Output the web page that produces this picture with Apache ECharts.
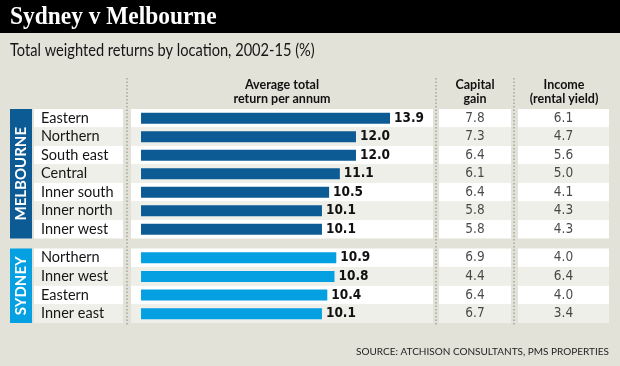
<!DOCTYPE html>
<html><head><meta charset="utf-8">
<script src="https://cdn.jsdelivr.net/npm/echarts@6/dist/echarts.min.js"></script>
<style>html,body{margin:0;padding:0;background:#e3e2d8}#c{width:620px;height:366px}</style>
</head><body><div id="c"></div>
<script>
const melCats = ['Eastern','Northern','South east','Central','Inner south','Inner north','Inner west'];
const melTotal = [13.9,12.0,12.0,11.1,10.5,10.1,10.1];
const melCapital = [7.8,7.3,6.4,6.1,6.4,5.8,5.8];
const melIncome = [6.1,4.7,5.6,5.0,4.1,4.3,4.3];
const sydCats = ['Northern','Inner west','Eastern','Inner east'];
const sydTotal = [10.9,10.8,10.4,10.1];
const sydCapital = [6.9,4.4,6.4,6.7];
const sydIncome = [4.0,6.4,4.0,3.4];
const groupNames = ['MELBOURNE','SYDNEY'];
const headers = ['Average total\nreturn per annum','Capital\ngain','Income\n(rental yield)'];
const titleText = 'Sydney v Melbourne';
const subtitleText = 'Total weighted returns by location, 2002-15 (%)';
const sourceText = 'SOURCE: ATCHISON CONSULTANTS, PMS PROPERTIES';

const FONT = 'Lato, "Noto Sans", sans-serif';
const NUMFONT = '"DejaVu Sans Condensed", "DejaVu Sans", sans-serif';
const groups = [
  {cats: melCats, total: melTotal, cap: melCapital, inc: melIncome, top: 109, h: 129.5, color: '#0c5b95'},
  {cats: sydCats, total: sydTotal, cap: sydCapital, inc: sydIncome, top: 248.5, h: 74.5, color: '#05a0e1'}
];
const cols = [
  {left: 34, width: 89},   // labels
  {left: 131, width: 302}, // bars
  {left: 439, width: 72},  // capital
  {left: 518, width: 91}   // income
];
const ROWCOLORS = ['#ffffff', '#efefe9'];

const grid = [], xAxis = [], yAxis = [], series = [];
groups.forEach((g, gi) => {
  cols.forEach((c, ci) => {
    const idx = grid.length;
    grid.push({left: c.left, width: c.width, top: g.top, height: g.h, containLabel: false});
    xAxis.push({
      type: 'value', gridIndex: idx, show: false,
      min: ci === 1 ? -0.56 : 0, max: ci === 1 ? 16.3 : 1
    });
    yAxis.push({
      type: 'category', gridIndex: idx, data: g.cats, inverse: true,
      axisLine: {show: false}, axisTick: {show: false}, splitLine: {show: false},
      splitArea: {show: true, interval: 0, areaStyle: {color: ROWCOLORS}},
      axisLabel: ci === 0 ? {show: true, interval: 0, hideOverlap: false, inside: true, margin: 7, color: '#151515', fontFamily: FONT, fontSize: 14.5} : {show: false}
    });
    if (ci === 1) {
      series.push({
        type: 'bar', xAxisIndex: idx, yAxisIndex: idx, data: g.total, barWidth: 11,
        itemStyle: {color: g.color}, animation: false,
        label: {show: true, position: 'right', distance: 4, color: '#111', fontFamily: NUMFONT, fontWeight: 'bold', fontSize: 13.5,
                formatter: p => p.value.toFixed(1)}
      });
    } else if (ci >= 2) {
      const vals = ci === 2 ? g.cap : g.inc;
      series.push({
        type: 'scatter', xAxisIndex: idx, yAxisIndex: idx, symbolSize: 0, animation: false,
        data: vals.map((v, i) => [0.5, g.cats[i], v]),
        label: {show: true, position: 'inside', color: '#1a1a1a', fontFamily: NUMFONT, fontSize: 13.5,
                formatter: p => p.value[2].toFixed(1)}
      });
    }
  });
});

const graphic = [
  {type: 'rect', shape: {x: 0, y: 0, width: 620, height: 33}, style: {fill: '#000'}},
  {type: 'text', x: 10, y: 17, scaleX: 0.9, style: {text: titleText, fill: '#fff', font: 'bold 26px "Liberation Serif", serif', textVerticalAlign: 'middle'}},
  {type: 'text', x: 10, y: 51, scaleX: 0.86, style: {text: subtitleText, fill: '#151515', font: '17px ' + FONT, textVerticalAlign: 'middle'}},
  {type: 'text', x: 609, y: 352, style: {text: sourceText, fill: '#1e1e1e', font: '10px ' + FONT, textAlign: 'right', textVerticalAlign: 'middle'}}
];
const headerX = [282, 475, 564];
headers.forEach((t, i) => {
  graphic.push({type: 'text', x: headerX[i], y: 92, style: {text: t, fill: '#111', font: 'bold 12.5px ' + FONT, textAlign: 'center', textVerticalAlign: 'middle', lineHeight: 14}});
});
[127, 436, 514].forEach(x => {
  graphic.push({type: 'line', shape: {x1: x, y1: 78, x2: x, y2: 325}, style: {stroke: '#b0b0a8', lineWidth: 1.8, lineDash: [1.5, 2]}});
});
groups.forEach((g, gi) => {
  graphic.push({type: 'rect', shape: {x: 10, y: g.top, width: 22, height: g.h}, style: {fill: g.color}});
  graphic.push({type: 'text', x: 21.5, y: g.top + g.h / 2, rotation: Math.PI / 2,
    style: {text: groupNames[gi], fill: '#fff', font: 'bold 15px ' + FONT, textAlign: 'center', textVerticalAlign: 'middle'}});
});

const chart = echarts.init(document.getElementById('c'), null, {renderer: 'canvas'});
chart.setOption({backgroundColor: '#e3e2d8', animation: false, grid, xAxis, yAxis, series, graphic});
</script></body></html>
